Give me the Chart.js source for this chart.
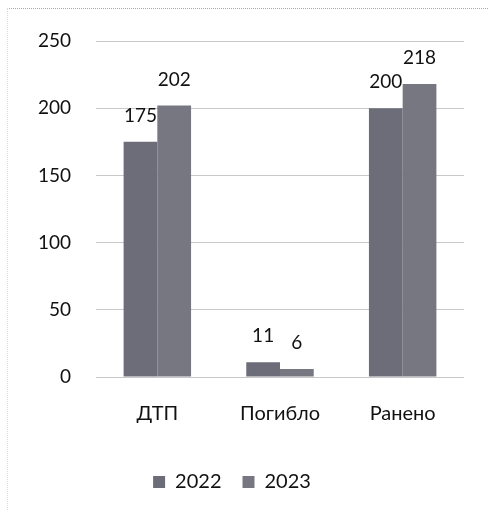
<!DOCTYPE html>
<html>
<head>
<meta charset="utf-8">
<script src="https://cdn.jsdelivr.net/npm/chart.js@4"></script>
<style>
  html, body { margin: 0; padding: 0; background: #fff; }
  #wrap { position: relative; width: 488px; height: 510px; }
  #frame { position: absolute; left: 7px; top: 8px; right: 0; bottom: 0; border-top: 1px dotted #aaa; border-left: 1px dotted #ddd; }
</style>
</head>
<body>
<div id="wrap">
  <div id="frame"></div>
  <canvas id="mychart" width="488" height="510"></canvas>
</div>
<script>
let categories = ["ДТП", "Погибло", "Ранено"];
let years = ["2022", "2023"];
let values2022 = [175, 11, 200];
let values2023 = [202, 6, 218];
let yTicks = [0, 50, 100, 150, 200, 250];

let font = "Lato, 'Open Sans', sans-serif";

// simple value labels above each bar
let valueLabels = {
  id: "valueLabels",
  afterDatasetsDraw(chart) {
    let ctx = chart.ctx;
    ctx.save();
    ctx.font = "19px " + font;
    ctx.fillStyle = "#111";
    ctx.textAlign = "center";
    ctx.textBaseline = "middle";
    chart.data.datasets.forEach((ds, i) => {
      chart.getDatasetMeta(i).data.forEach((bar, j) => {
        ctx.fillText(ds.data[j], bar.x, bar.y - 26);
      });
    });
    ctx.restore();
  },
};

let chart = new Chart(document.getElementById("mychart").getContext("2d"), {
  type: "bar",
  data: {
    labels: categories,
    datasets: [
      { label: years[0], data: values2022, backgroundColor: "#6d6d7a" },
      { label: years[1], data: values2023, backgroundColor: "#777782" },
    ],
  },
  options: {
    responsive: false,
    animation: false,
    layout: { padding: { top: 41, right: 24, bottom: 8, left: 0 } },
    datasets: { bar: { categoryPercentage: 0.55, barPercentage: 1.0 } },
    scales: {
      y: {
        min: 0,
        max: 250,
        afterBuildTicks: (s) => { s.ticks = yTicks.map((v) => ({ value: v })); },
        afterFit: (s) => { s.width = 96; },
        border: { display: false },
        grid: { color: "#c8c8c8", drawTicks: false },
        ticks: { padding: 25, color: "#111", font: { family: font, size: 19 } },
      },
      x: {
        border: { display: false },
        grid: { display: false, drawTicks: false },
        ticks: { padding: 25, color: "#111", font: { family: font, size: 20 } },
      },
    },
    plugins: {
      tooltip: { enabled: false },
      legend: {
        position: "bottom",
        labels: {
          boxWidth: 12,
          boxHeight: 12,
          padding: 21,
          color: "#111",
          font: { family: font, size: 20 },
        },
      },
    },
  },
  plugins: [valueLabels],
});
</script>
</body>
</html>
